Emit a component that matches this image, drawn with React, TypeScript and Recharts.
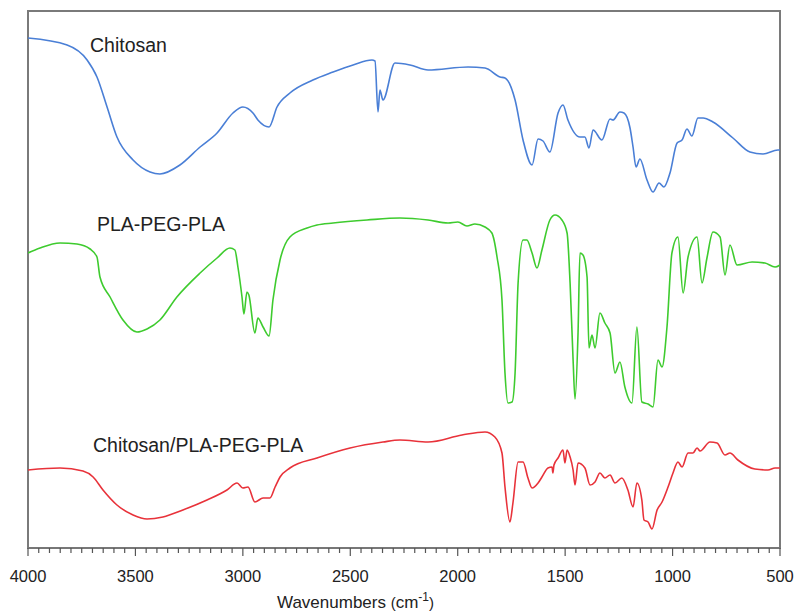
import { LineChart, Line, XAxis, YAxis, ReferenceArea } from 'recharts'

// FTIR spectra, transmittance in arbitrary (offset) units, wavenumber in cm-1
const chitosan: [number, number][] = [
  [4000, 510], [3818, 503], [3725, 488], [3679, 471], [3632, 441], [3586, 411],
  [3511, 388], [3432, 376], [3386, 374], [3293, 383], [3199, 401], [3120, 415],
  [3046, 435], [3000, 441], [2953, 435], [2930, 428], [2878, 421], [2841, 441],
  [2781, 455], [2674, 468], [2580, 476], [2487, 483], [2399, 488], [2385, 487],
  [2371, 436], [2362, 458], [2348, 448], [2292, 485], [2222, 483], [2138, 478],
  [1952, 481], [1873, 480], [1803, 471], [1780, 470], [1733, 448], [1696, 408],
  [1654, 383], [1626, 409], [1603, 407], [1571, 396], [1533, 435], [1510, 443],
  [1487, 428], [1431, 411], [1408, 411], [1389, 400], [1370, 418], [1329, 408],
  [1291, 429], [1277, 428], [1245, 436], [1226, 435], [1198, 420], [1184, 401],
  [1170, 381], [1152, 389], [1119, 368], [1091, 356], [1063, 365], [1040, 361],
  [1012, 375], [979, 405], [956, 408], [933, 419], [910, 412], [882, 430],
  [858, 430], [812, 426], [719, 410], [640, 396], [579, 394], [510, 398], [500, 398],
]

const plaPegPla: [number, number][] = [
  [4000, 295], [3944, 300], [3851, 305], [3772, 304], [3711, 299], [3679, 291],
  [3665, 271], [3618, 251], [3558, 228], [3493, 216], [3446, 219], [3386, 228],
  [3307, 251], [3199, 275], [3120, 290], [3060, 300], [3037, 298], [3023, 281],
  [3004, 251], [2995, 234], [2981, 256], [2972, 253], [2944, 215], [2930, 230],
  [2906, 221], [2878, 212], [2860, 248], [2827, 288], [2781, 311], [2701, 320],
  [2655, 323], [2580, 325], [2422, 328], [2269, 330], [2138, 328], [2045, 325],
  [1999, 326], [1957, 322], [1920, 324], [1873, 321], [1841, 315], [1817, 291],
  [1794, 248], [1780, 175], [1766, 145], [1747, 146], [1733, 175], [1719, 265],
  [1696, 308], [1678, 308], [1654, 295], [1631, 280], [1608, 298], [1571, 328],
  [1547, 333], [1515, 328], [1491, 315], [1477, 265], [1463, 188], [1454, 149],
  [1440, 215], [1431, 295], [1417, 293], [1398, 271], [1389, 200], [1375, 213],
  [1361, 200], [1338, 235], [1315, 225], [1291, 215], [1268, 175], [1245, 186],
  [1222, 161], [1189, 145], [1166, 221], [1143, 146], [1114, 144], [1091, 141],
  [1068, 188], [1049, 181], [1026, 221], [1003, 295], [975, 311], [951, 255],
  [928, 291], [886, 311], [863, 265], [840, 290], [812, 316], [779, 311],
  [756, 273], [733, 303], [700, 283], [630, 286], [570, 285], [523, 281], [500, 283],
]

const blend: [number, number][] = [
  [4000, 78], [3851, 80], [3744, 77], [3697, 71], [3651, 58], [3586, 43],
  [3511, 33], [3446, 29], [3372, 31], [3279, 38], [3167, 48], [3074, 58],
  [3027, 65], [3000, 60], [2976, 61], [2944, 46], [2906, 50], [2874, 50],
  [2850, 61], [2827, 71], [2781, 80], [2655, 90], [2501, 100], [2348, 106],
  [2269, 108], [2138, 106], [1980, 113], [1873, 116], [1827, 111], [1794, 95],
  [1780, 61], [1757, 26], [1743, 45], [1719, 86], [1696, 86], [1673, 70],
  [1654, 60], [1626, 65], [1608, 71], [1580, 80], [1561, 81], [1557, 75],
  [1552, 83], [1533, 90], [1510, 98], [1501, 85], [1491, 98], [1477, 91],
  [1463, 78], [1454, 63], [1440, 85], [1408, 80], [1384, 63], [1361, 66],
  [1338, 75], [1315, 70], [1291, 73], [1268, 65], [1236, 70], [1208, 58],
  [1184, 41], [1166, 65], [1143, 48], [1133, 28], [1114, 26], [1096, 19],
  [1072, 38], [1049, 46], [1021, 61], [998, 75], [975, 86], [956, 81],
  [928, 95], [905, 95], [886, 100], [872, 97], [826, 106], [793, 105],
  [756, 93], [733, 95], [696, 88], [617, 79], [556, 78], [523, 80], [500, 80],
]

const seriesLabels = ['Chitosan', 'PLA-PEG-PLA', 'Chitosan/PLA-PEG-PLA']
const majorTicks = [4000, 3500, 3000, 2500, 2000, 1500, 1000, 500]
const allTicks = Array.from({ length: 71 }, (_, i) => 500 + i * 50)

const font = '"Liberation Sans", Arial, sans-serif'

const rows = (pts: [number, number][]) => pts.map(([wn, t]) => ({ wn, t }))

function Tick(props: any) {
  const { x, y, payload } = props
  const major = majorTicks.includes(payload.value)
  return (
    <g>
      <line x1={x} x2={x} y1={y} y2={y + (major ? 8 : 5)} stroke="#555" strokeWidth={1.2} />
      {major && (
        <text x={x} y={y + 34} textAnchor="middle" fontSize={16.5} fill="#222" fontFamily={font}>
          {payload.value}
        </text>
      )}
    </g>
  )
}

export default function App() {
  return (
    <div style={{ position: 'absolute', left: 0, top: 0, width: 795, height: 612, background: '#fff' }}>
      <LineChart width={795} height={612} margin={{ top: 11, right: 15, left: 28, bottom: 34 }}>
        <XAxis
          dataKey="wn"
          type="number"
          domain={[500, 4000]}
          reversed
          allowDataOverflow
          ticks={allTicks}
          interval={0}
          tickSize={0}
          tickMargin={0}
          tickLine={false}
          axisLine={{ stroke: '#777', strokeWidth: 2 }}
          tick={<Tick />}
          height={30}
        />
        <YAxis hide domain={[0, 537]} />
        <ReferenceArea x1={500} x2={4000} y1={0} y2={537} fill="none" stroke="#7a7a7a" strokeWidth={2} />
        <Line data={rows(chitosan)} dataKey="t" type="monotone" stroke="#4a7fd6" strokeWidth={1.6} dot={false} isAnimationActive={false} />
        <Line data={rows(plaPegPla)} dataKey="t" type="monotone" stroke="#3ecb2e" strokeWidth={1.6} dot={false} isAnimationActive={false} />
        <Line data={rows(blend)} dataKey="t" type="monotone" stroke="#e8323a" strokeWidth={1.6} dot={false} isAnimationActive={false} />
      </LineChart>
      <svg width={795} height={612} style={{ position: 'absolute', left: 0, top: 0, pointerEvents: 'none' }}>
        <g fontFamily={font} fill="#222">
          <text x={90} y={51.5} fontSize={19.5}>{seriesLabels[0]}</text>
          <text x={97} y={230.5} fontSize={19.5}>{seriesLabels[1]}</text>
          <text x={93} y={451.5} fontSize={19.5}>{seriesLabels[2]}</text>
          <text x={277} y={608} fontSize={17}>
            Wavenumbers <tspan fontSize={15}>(</tspan>cm
            <tspan fontSize={12} dy={-7}>-1</tspan>
            <tspan fontSize={15} dy={7}>)</tspan>
          </text>
        </g>
      </svg>
    </div>
  )
}
